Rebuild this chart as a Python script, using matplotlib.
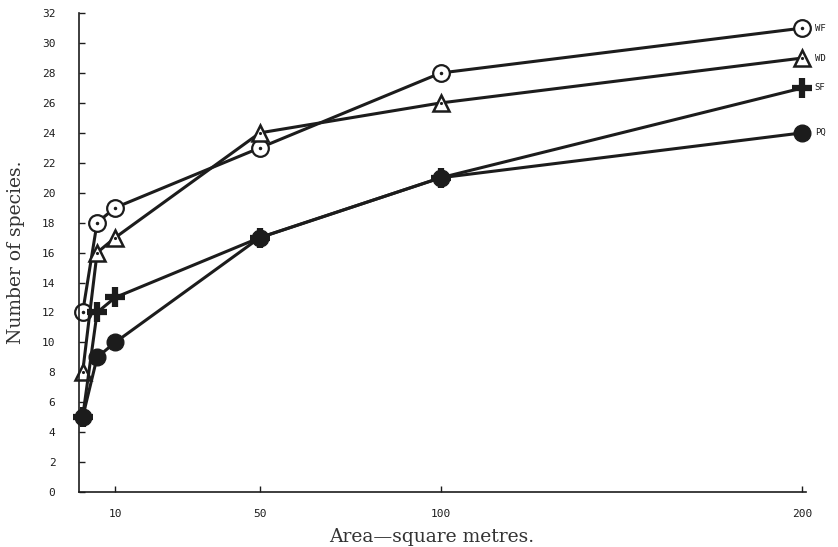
import matplotlib
matplotlib.use("Agg")
import matplotlib.pyplot as plt

area = [1, 5, 10, 50, 100, 200]
wf = [12, 18, 19, 23, 28, 31]
wd = [8, 16, 17, 24, 26, 29]
sf = [5, 12, 13, 17, 21, 27]
pq = [5, 9, 10, 17, 21, 24]
series_names = ["WF", "WD", "SF", "PQ"]

x_ticks = [10, 50, 100, 200]
y_ticks = list(range(0, 33, 2))

INK = "#1c1c1c"

fig = plt.figure(figsize=(8.38, 5.47), dpi=100)
ax = fig.add_axes([0.0943, 0.1005, 0.8675, 0.8755])

line_kw = dict(color=INK, linewidth=2.2, clip_on=False, zorder=2)

# open circles with a centre dot
ax.plot(area, wf, marker="o", markersize=12, markerfacecolor="white",
        markeredgecolor=INK, markeredgewidth=1.6, **line_kw)
ax.plot(area, wf, linestyle="none", marker=".", markersize=3,
        color=INK, clip_on=False, zorder=3)

# open triangles with a centre dot
ax.plot(area, wd, marker="^", markersize=12, markerfacecolor="white",
        markeredgecolor=INK, markeredgewidth=1.8, **line_kw)
ax.plot(area, wd, linestyle="none", marker=".", markersize=2.5,
        color=INK, clip_on=False, zorder=3)

# heavy plus
ax.plot(area, sf, marker="+", markersize=15, markeredgewidth=4.5,
        markeredgecolor=INK, **line_kw)

# filled circle
ax.plot(area, pq, marker="o", markersize=12, markerfacecolor=INK,
        markeredgecolor=INK, **line_kw)

# series names at the right end
for name, vals in zip(series_names, [wf, wd, sf, pq]):
    ax.annotate(name, (area[-1], vals[-1]), xytext=(9, 0),
                textcoords="offset points", va="center", ha="left",
                fontsize=6.5, family="DejaVu Sans Mono", color=INK,
                annotation_clip=False)

ax.set_xlim(0, 201)
ax.set_ylim(0, 32)
ax.set_xticks(x_ticks)
ax.set_yticks(y_ticks)
ax.tick_params(axis="y", direction="in", length=4, width=1, pad=17,
               labelsize=8, colors=INK)
ax.tick_params(axis="x", direction="in", length=4, width=1, pad=12,
               labelsize=8, colors=INK)
for lab in ax.get_xticklabels() + ax.get_yticklabels():
    lab.set_family("DejaVu Sans Mono")

for side in ["top", "right"]:
    ax.spines[side].set_visible(False)
for side in ["left", "bottom"]:
    ax.spines[side].set_color(INK)
    ax.spines[side].set_linewidth(1.2)

ax.set_ylabel("Number of species.", family="DejaVu Serif", fontsize=13.5,
              color="#333333")
ax.set_xlabel("Area\u2014square metres.", family="DejaVu Serif", fontsize=13.5,
              color="#333333")
ax.yaxis.set_label_coords(-0.075, 0.5)
ax.xaxis.set_label_coords(0.485, -0.075)

fig.savefig("out.png", dpi=100, facecolor="white")
